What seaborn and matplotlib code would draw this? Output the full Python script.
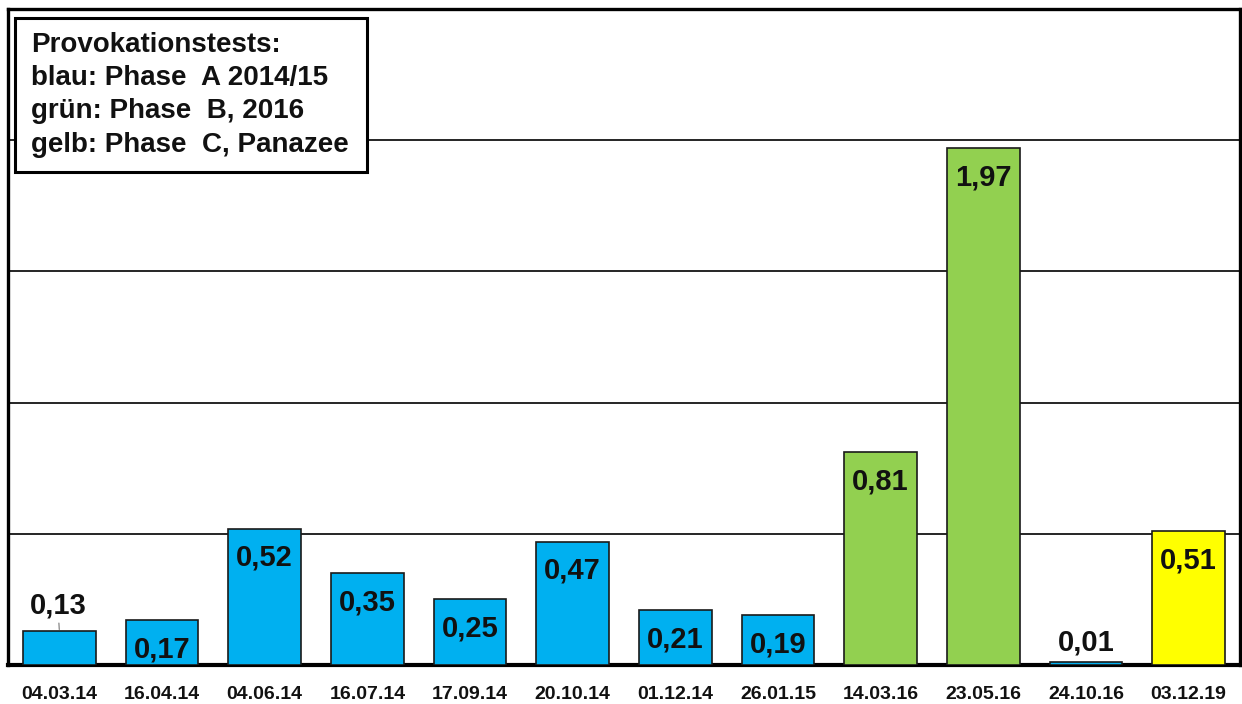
import matplotlib
matplotlib.use("Agg")
import matplotlib.pyplot as plt
import seaborn as sns
import pandas as pd
from matplotlib.patches import Rectangle

dates = ["04.03.14", "16.04.14", "04.06.14", "16.07.14", "17.09.14", "20.10.14",
         "01.12.14", "26.01.15", "14.03.16", "23.05.16", "24.10.16", "03.12.19"]
values = [0.13, 0.17, 0.52, 0.35, 0.25, 0.47, 0.21, 0.19, 0.81, 1.97, 0.01, 0.51]
phases = ["A", "A", "A", "A", "A", "A", "A", "A", "B", "B", "A", "C"]
phase_colors = {"A": "#00B0F0", "B": "#92D050", "C": "#FFFF00"}
labels = ["0,13", "0,17", "0,52", "0,35", "0,25", "0,47", "0,21", "0,19",
          "0,81", "1,97", "0,01", "0,51"]
legend_lines = ["Provokationstests:", "blau: Phase  A 2014/15",
                "grün: Phase  B, 2016", "gelb: Phase  C, Panazee"]

sns.set_theme(style="white")
plt.rcParams['font.family'] = ['Liberation Sans', 'DejaVu Sans']

df = pd.DataFrame({"date": dates, "value": values, "phase": phases})

fig = plt.figure(figsize=(12.42, 7.04), dpi=100)
W, H = 1242, 704
ax = fig.add_axes([8 / W, (H - 665) / H, 1232 / W, (665 - 9) / H])

sns.barplot(data=df, x="date", y="value", hue="phase", palette=phase_colors,
            saturation=1, dodge=False, width=0.71, edgecolor="#1a1a1a",
            linewidth=1.2, legend=False, ax=ax, zorder=3)

ax.set_xlim(-0.5, len(dates) - 0.5)
ax.set_ylim(0, 2.5)
ax.set_yticks([0.5, 1.0, 1.5, 2.0])
ax.set_yticklabels([])
ax.tick_params(axis="y", length=0)
ax.grid(axis="y", color="black", linewidth=1.2, zorder=0)
ax.set_axisbelow(True)
ax.set_xlabel("")
ax.set_ylabel("")
ax.tick_params(axis="x", length=0, pad=15)
for t in ax.get_xticklabels():
    t.set_fontsize(14)
    t.set_fontweight("bold")
    t.set_color("#111111")
for s in ax.spines.values():
    s.set_visible(True)
    s.set_color("black")
    s.set_linewidth(2.4)
ax.spines["bottom"].set_linewidth(3)

for i, (v, lab) in enumerate(zip(values, labels)):
    if v < 0.15:
        if v < 0.05:
            ax.annotate(lab, xy=(i, v), xytext=(0, 4), textcoords="offset points",
                        ha="center", va="bottom", fontsize=21, fontweight="bold",
                        color="#111111", zorder=5)
        else:
            ax.annotate(lab, xy=(i, v), xytext=(-1, 8), textcoords="offset points",
                        ha="center", va="bottom", fontsize=21, fontweight="bold",
                        color="#111111", zorder=5,
                        arrowprops=dict(arrowstyle="-", color="#777777", lw=0.8,
                                        shrinkA=0, shrinkB=1))
    else:
        ax.annotate(lab, xy=(i, v), xytext=(0, -11), textcoords="offset points",
                    ha="center", va="top", fontsize=21, fontweight="bold",
                    color="#111111", zorder=5)

# legend-like text box
x0 = (15 - 8) / 1232
x1 = (367 - 8) / 1232
y1 = 1 - (18 - 9) / 656
y0 = 1 - (172 - 9) / 656
ax.add_patch(Rectangle((x0, y0), x1 - x0, y1 - y0, transform=ax.transAxes,
                       facecolor="white", edgecolor="black", linewidth=2.2, zorder=6))
ax.text((31 - 8) / 1232, 1 - (32 - 9) / 656, "\n".join(legend_lines),
        transform=ax.transAxes, ha="left", va="top", fontsize=20, fontweight="bold",
        color="#111111", linespacing=1.36, zorder=7)

fig.savefig("out.png", dpi=100, facecolor="white")
